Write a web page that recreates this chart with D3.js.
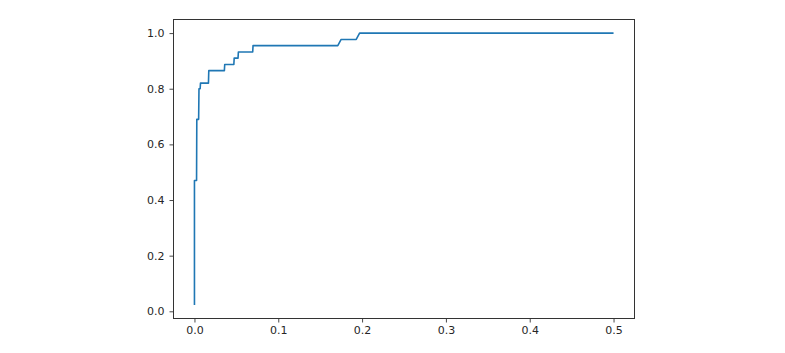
<!DOCTYPE html>
<html>
<head>
<meta charset="utf-8">
<script src="https://cdn.jsdelivr.net/npm/d3@7"></script>
<style>
  body { margin: 0; background: #fff; }
  text { font-family: "DejaVu Sans", sans-serif; }
</style>
</head>
<body>
<div id="chart"></div>
<script>
//Chart size and the axes box (matplotlib-like layout)
const width = 785;
const height = 353;
const box = { left: 173.5, top: 19.5, right: 634.5, bottom: 318.5 };

//ROC curve
const fpr = [0, 0, 0.0025, 0.0028, 0.005, 0.0054, 0.0068, 0.0072, 0.0167, 0.0171, 0.0357, 0.0361, 0.047, 0.0474, 0.052, 0.0524, 0.0695, 0.0699, 0.171, 0.175, 0.193, 0.197, 0.5];
const tpr = [0.023, 0.47, 0.47, 0.69, 0.69, 0.80, 0.80, 0.82, 0.82, 0.865, 0.865, 0.887, 0.887, 0.91, 0.91, 0.932, 0.932, 0.955, 0.955, 0.977, 0.977, 1.0, 1.0];

//Tick values
const xTicks = [0, 0.1, 0.2, 0.3, 0.4, 0.5];
const yTicks = [0, 0.2, 0.4, 0.6, 0.8, 1.0];

const points = fpr.map((d, i) => [d, tpr[i]]);

//Domains with 5% margins like matplotlib
const pad = ([a, b]) => [a - (b - a) * 0.05, b + (b - a) * 0.05];
const xscale = d3.scaleLinear().domain(pad(d3.extent(fpr))).range([box.left, box.right]);
const yscale = d3.scaleLinear().domain(pad(d3.extent(tpr))).range([box.bottom, box.top]);

const svg = d3.select("#chart").append("svg").attr("width", width).attr("height", height);

//The curve
svg.append("path")
    .datum(points)
    .attr("fill", "none")
    .attr("stroke", "#1f77b4")
    .attr("stroke-width", 1.6)
    .attr("stroke-linejoin", "round")
    .attr("d", d3.line().x(d => xscale(d[0])).y(d => yscale(d[1])));

//Axes
const xAxis = d3.axisBottom(xscale).tickValues(xTicks).tickFormat(d3.format(".1f")).tickSize(4).tickPadding(4);
const yAxis = d3.axisLeft(yscale).tickValues(yTicks).tickFormat(d3.format(".1f")).tickSize(4).tickPadding(5);

const gx = svg.append("g").attr("transform", `translate(0, ${box.bottom})`).call(xAxis);
const gy = svg.append("g").attr("transform", `translate(${box.left}, 0)`).call(yAxis);

[gx, gy].forEach(g => {
    g.select(".domain").remove();
    g.selectAll("line").attr("stroke", "#333").attr("stroke-width", 0.9);
    g.selectAll("text").attr("fill", "#262626").style("font-size", "11px").style("font-family", "DejaVu Sans");
});

//Frame around the axes
svg.append("rect")
    .attr("x", box.left).attr("y", box.top)
    .attr("width", box.right - box.left).attr("height", box.bottom - box.top)
    .attr("fill", "none").attr("stroke", "#333").attr("stroke-width", 1);
</script>
</body>
</html>
